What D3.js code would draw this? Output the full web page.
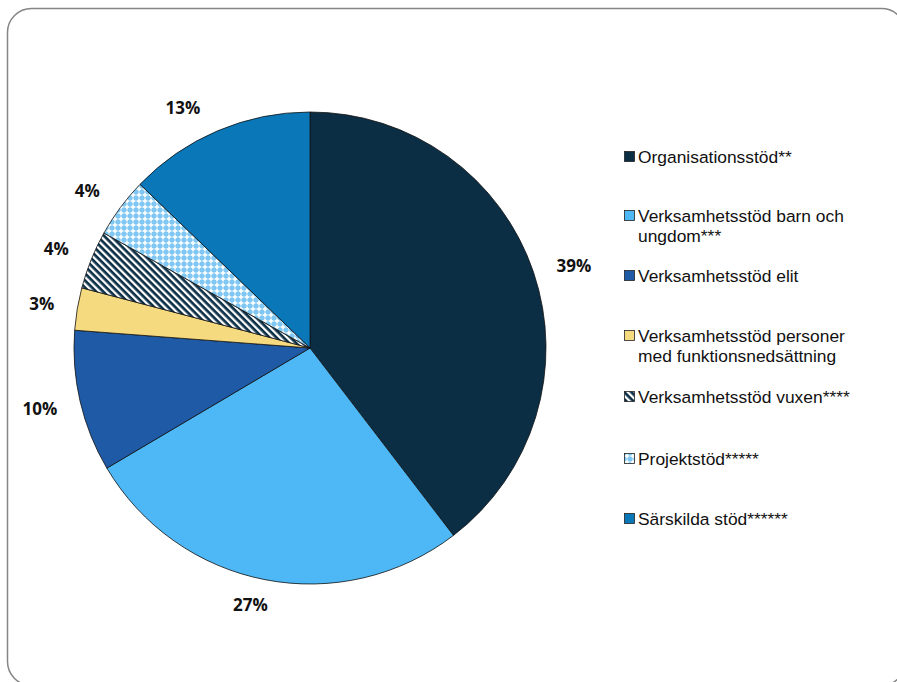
<!DOCTYPE html>
<html>
<head>
<meta charset="utf-8">
<script src="https://cdn.jsdelivr.net/npm/d3@7"></script>
<style>
  body { margin: 0; background: #fff; }
  svg { display: block; }
</style>
</head>
<body>
<script>
// Data
const categories = [
  'Organisationsstöd**',
  'Verksamhetsstöd barn och ungdom***',
  'Verksamhetsstöd elit',
  'Verksamhetsstöd personer med funktionsnedsättning',
  'Verksamhetsstöd vuxen****',
  'Projektstöd*****',
  'Särskilda stöd******'
];
const shares = [39.6, 26.9, 9.7, 2.9, 4.0, 4.1, 12.8];
const shareLabels = ['39%', '27%', '10%', '3%', '4%', '4%', '13%'];
const legendLines = [
  ['Organisationsstöd**'],
  ['Verksamhetsstöd barn och', 'ungdom***'],
  ['Verksamhetsstöd elit'],
  ['Verksamhetsstöd personer', 'med funktionsnedsättning'],
  ['Verksamhetsstöd vuxen****'],
  ['Projektstöd*****'],
  ['Särskilda stöd******']
];

// Configuration
const width = 897;
const height = 682;
const cx = 310, cy = 348, radius = 236;

const svg = d3.select('body')
  .append('svg')
  .attr('width', width)
  .attr('height', height);

// Patterns
const defs = svg.append('defs');
const stripes = defs.append('pattern')
  .attr('id', 'stripes')
  .attr('patternUnits', 'userSpaceOnUse')
  .attr('width', 5).attr('height', 5)
  .attr('patternTransform', 'rotate(45)');
stripes.append('rect').attr('width', 5).attr('height', 5).attr('fill', '#ffffff');
stripes.append('rect').attr('width', 5).attr('height', 2.7).attr('fill', '#0b2e45');

const dots = defs.append('pattern')
  .attr('id', 'dots')
  .attr('patternUnits', 'userSpaceOnUse')
  .attr('width', 6).attr('height', 6);
dots.append('rect').attr('width', 6).attr('height', 6).attr('fill', '#80c8f3');
dots.append('rect').attr('x', 2.2).attr('y', 0.6).attr('width', 1.6).attr('height', 4.8).attr('fill', '#ffffff');
dots.append('rect').attr('x', 0.6).attr('y', 2.2).attr('width', 4.8).attr('height', 1.6).attr('fill', '#ffffff');

const fills = ['#0b2e45', '#4db8f5', '#1f5aa6', '#f6da80', 'url(#stripes)', 'url(#dots)', '#0a78b8'];
const color = d3.scaleOrdinal().domain(categories).range(fills);

// Frame
svg.append('rect')
  .attr('x', 7.5).attr('y', 8.5)
  .attr('width', 898).attr('height', 677)
  .attr('rx', 24)
  .attr('fill', 'none')
  .attr('stroke', '#858585')
  .attr('stroke-width', 1.5);

// Pie
const pie = d3.pie().sort(null).value(d => d.v);
const arcs = pie(shares.map((v, i) => ({ v, name: categories[i], label: shareLabels[i] })));
const arc = d3.arc().innerRadius(0).outerRadius(radius);

const g = svg.append('g').attr('transform', `translate(${cx},${cy})`);
g.selectAll('path')
  .data(arcs)
  .enter()
  .append('path')
  .attr('d', arc)
  .attr('fill', d => color(d.data.name))
  .attr('stroke', '#111')
  .attr('stroke-width', 0.8)
  .attr('stroke-linejoin', 'round');

// Percent labels (outside end, small nudges like Excel does)
const labelArc = d3.arc().innerRadius(radius + 30).outerRadius(radius + 30);
const labelNudge = [[12, 3], [-9, -4], [-11, 1], [-6, 0], [-7, 1], [-9, 1], [-23, 5]];
g.selectAll('.pct')
  .data(arcs)
  .enter()
  .append('text')
  .attr('class', 'pct')
  .attr('x', (d, i) => labelArc.centroid(d)[0] + labelNudge[i][0])
  .attr('y', (d, i) => labelArc.centroid(d)[1] + labelNudge[i][1])
  .attr('dy', '0.35em')
  .attr('text-anchor', 'middle')
  .style('font-family', '"Open Sans", "Liberation Sans", sans-serif')
  .style('font-weight', 'bold')
  .style('font-size', '17px')
  .attr('fill', '#111')
  .text(d => d.data.label);

// Legend
const legendY = [157, 216, 276, 336, 397, 459, 519];
const legend = svg.selectAll('.legend')
  .data(categories)
  .enter()
  .append('g')
  .attr('class', 'legend')
  .attr('transform', (d, i) => `translate(624, ${legendY[i]})`);

legend.append('rect')
  .attr('x', 0.5).attr('y', -5.5)
  .attr('width', 10).attr('height', 10)
  .attr('fill', d => color(d))
  .attr('stroke', '#222')
  .attr('stroke-width', 0.8);

legend.selectAll('text')
  .data((d, i) => legendLines[i])
  .enter()
  .append('text')
  .attr('x', 14)
  .attr('y', (d, j) => j * 20)
  .attr('dy', '0.35em')
  .style('font-family', '"Liberation Sans", Arial, sans-serif')
  .style('font-size', '17.4px')
  .attr('fill', '#111')
  .text(d => d);
</script>
</body>
</html>
